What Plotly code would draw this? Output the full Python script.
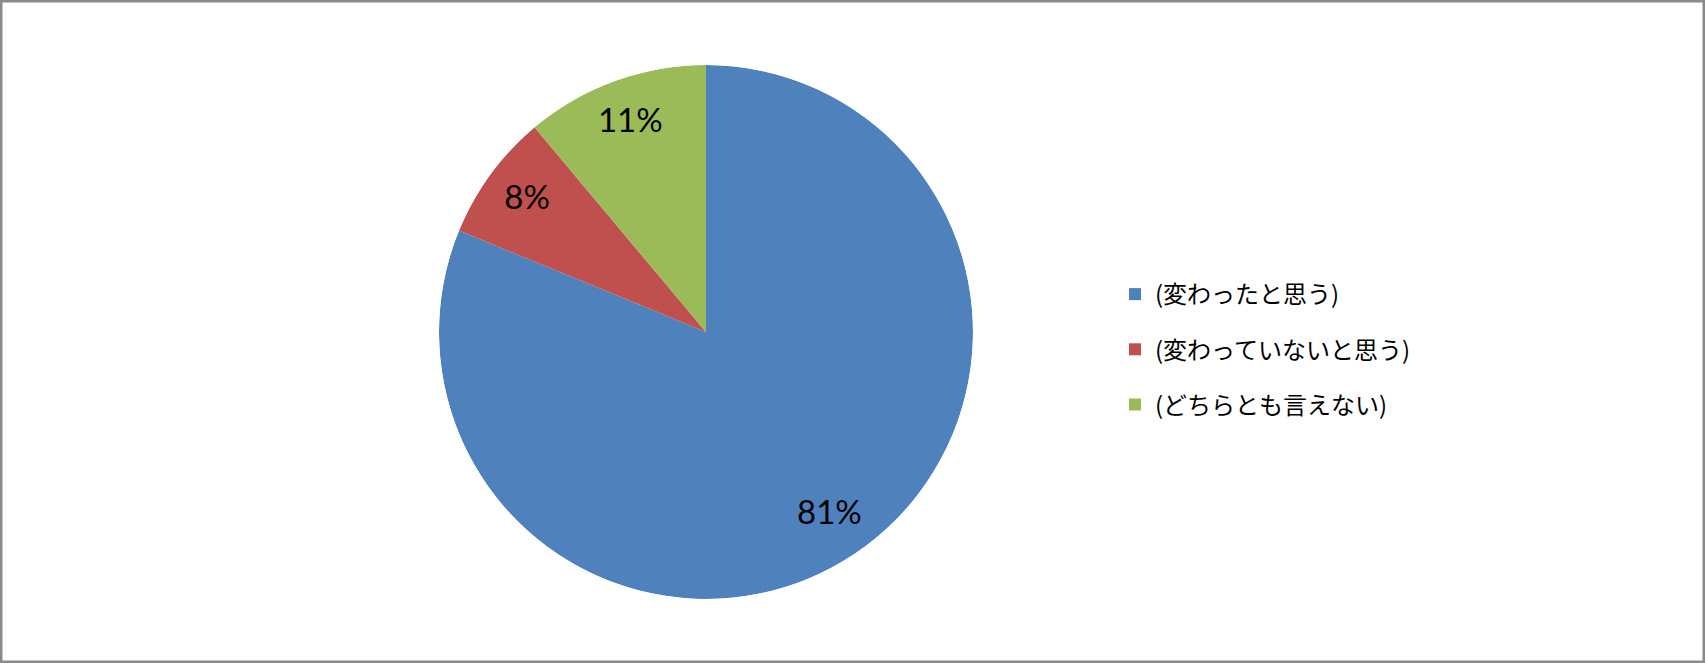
import plotly.graph_objects as go

labels = ["(変わったと思う)", "(変わっていないと思う)", "(どちらとも言えない)"]
values = [81.2, 7.7, 11.1]
colors = ["#4F81BD", "#C0504D", "#9BBB59"]

W, H = 1705, 663
cx, cy, r = 706, 332, 267
LABEL_R = 0.83

total = sum(values)
pcts = [v / total for v in values]
mid_theta, widths = [], []
acc = 0.0
for p in pcts:
    mid_theta.append((acc + p / 2) * 360)
    widths.append(p * 360)
    acc += p
pct_text = [f"{round(p * 100)}%" for p in pcts]

dom = dict(x=[(cx - r) / W, (cx + r) / W], y=[(H - cy - r) / H, (H - cy + r) / H])

fig = go.Figure()
for lab, col, th, wd, p in zip(labels, colors, mid_theta, widths, pcts):
    fig.add_trace(go.Barpolar(
        r=[1], theta=[th], width=[wd], name=lab, legendgroup=lab,
        marker=dict(color=col, line=dict(width=0)),
        customdata=[p], hovertemplate=lab + " %{customdata:.0%}<extra></extra>",
    ))
fig.add_trace(go.Scatterpolar(
    r=[LABEL_R] * len(values), theta=mid_theta, mode="text", text=pct_text,
    textfont=dict(family="Lato, Open Sans, sans-serif", size=33, color="black"),
    showlegend=False, hoverinfo="skip",
))

fig.update_layout(
    width=W, height=H,
    margin=dict(l=0, r=0, t=0, b=0),
    paper_bgcolor="white", plot_bgcolor="white",
    polar=dict(
        domain=dom, bgcolor="rgba(0,0,0,0)", hole=0, bargap=0,
        radialaxis=dict(visible=False, range=[0, 1], showgrid=False),
        angularaxis=dict(visible=False, rotation=90, direction="clockwise", showgrid=False),
    ),
    showlegend=True,
    legend=dict(
        x=1115 / W, y=1 - 272 / H, xanchor="left", yanchor="top",
        traceorder="grouped", tracegroupgap=21,
        font=dict(family="Noto Sans CJK JP", size=24, color="black"),
        bgcolor="rgba(0,0,0,0)",
    ),
    shapes=[dict(type="rect", xref="paper", yref="paper", x0=0, y0=0, x1=1, y1=1,
                 line=dict(color="#8a8a8a", width=5), fillcolor="rgba(0,0,0,0)")],
)

fig.write_html("out.html", config={"displayModeBar": False},
               post_script="document.body.style.margin='0';")
